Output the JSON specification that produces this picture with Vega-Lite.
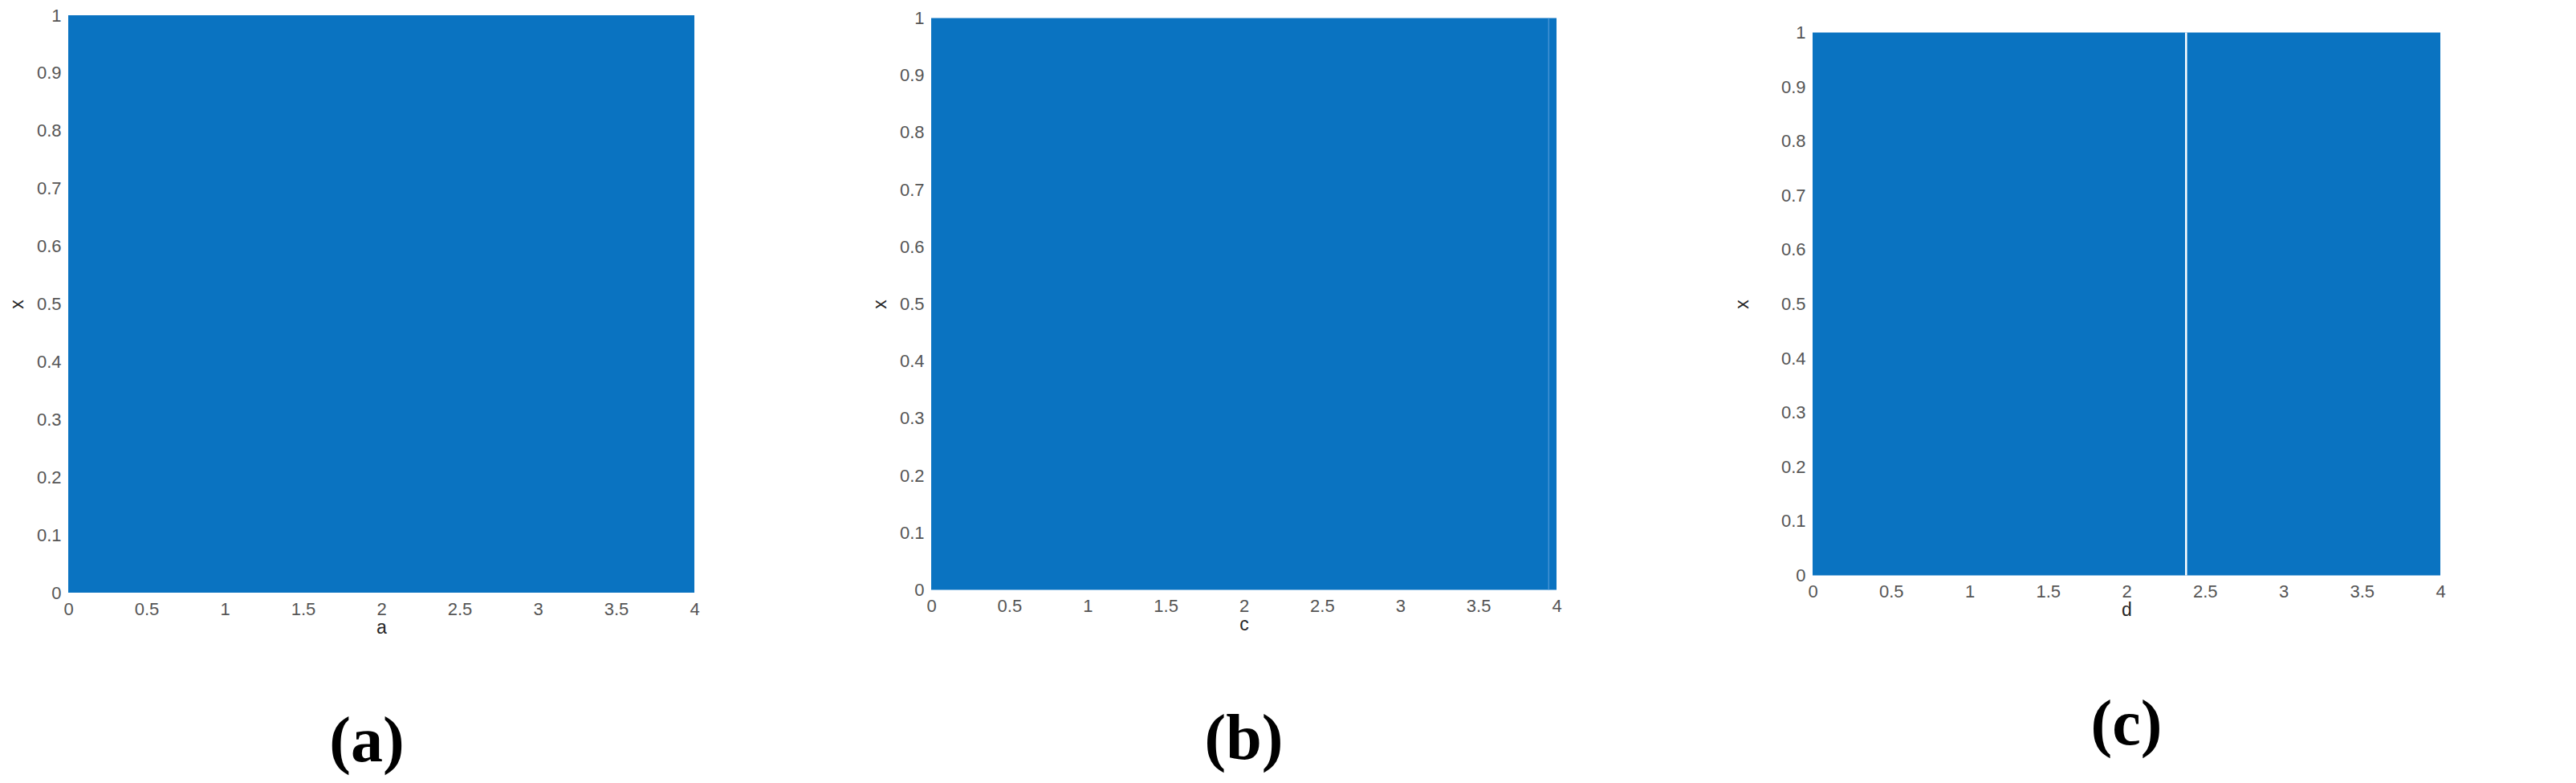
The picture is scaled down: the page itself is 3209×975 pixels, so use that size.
{
  "$schema": "https://vega.github.io/schema/vega-lite/v6.json",
  "background": "white",
  "padding": {"left": 10, "top": 8, "right": 5, "bottom": 5},
  "datasets": {
    "panelA": [{"p0": 0, "p1": 4, "x0": 0, "x1": 1}],
    "panelB": [{"p0": 0, "p1": 4, "x0": 0, "x1": 1}],
    "panelC": [{"p0": 0, "p1": 4, "x0": 0, "x1": 1}],
    "gapB": [{"p": 3.95}],
    "gapC": [{"p": 2.38}]
  },
  "config": {
    "view": {"stroke": null},
    "axis": {
      "labelFont": "Liberation Sans",
      "labelFontSize": 22,
      "labelColor": "#555555",
      "titleFont": "Liberation Sans",
      "titleFontSize": 23,
      "titleFontWeight": "normal",
      "titleColor": "#262626",
      "grid": false,
      "ticks": false,
      "domain": false,
      "labelOverlap": false,
      "labelFlush": false
    },
    "axisX": {"labelPadding": 10, "titlePadding": 1},
    "axisY": {"labelPadding": 9, "titlePadding": 12},
    "title": {"font": "Liberation Serif", "fontSize": 80, "fontWeight": "bold", "color": "#000000"}
  },
  "center": true,
  "spacing": 213,
  "hconcat": [
    {
      "width": 780,
      "height": 719,
      "title": {"text": "(a)", "orient": "bottom", "offset": 92, "dx": -18},
      "layer": [
        {
          "data": {"name": "panelA"},
          "mark": {"type": "rect", "color": "#0A73C1"},
          "encoding": {
            "x": {"field": "p0", "type": "quantitative", "scale": {"domain": [0, 4], "nice": false, "zero": false}, "axis": {"title": "a", "values": [0, 0.5, 1, 1.5, 2, 2.5, 3, 3.5, 4], "format": "~g"}},
            "x2": {"field": "p1"},
            "y": {"field": "x0", "type": "quantitative", "scale": {"domain": [0, 1], "nice": false}, "axis": {"title": "x", "values": [0, 0.1, 0.2, 0.3, 0.4, 0.5, 0.6, 0.7, 0.8, 0.9, 1], "format": "~g"}},
            "y2": {"field": "x1"}
          }
        }
      ]
    },
    {
      "width": 779,
      "height": 712,
      "title": {"text": "(b)", "orient": "bottom", "offset": 92},
      "layer": [
        {
          "data": {"name": "panelB"},
          "mark": {"type": "rect", "color": "#0A73C1"},
          "encoding": {
            "x": {"field": "p0", "type": "quantitative", "scale": {"domain": [0, 4], "nice": false, "zero": false}, "axis": {"title": "c", "values": [0, 0.5, 1, 1.5, 2, 2.5, 3, 3.5, 4], "format": "~g"}},
            "x2": {"field": "p1"},
            "y": {"field": "x0", "type": "quantitative", "scale": {"domain": [0, 1], "nice": false}, "axis": {"title": "x", "values": [0, 0.1, 0.2, 0.3, 0.4, 0.5, 0.6, 0.7, 0.8, 0.9, 1], "format": "~g"}},
            "y2": {"field": "x1"}
          }
        },
        {
          "data": {"name": "gapB"},
          "mark": {"type": "rule", "color": "#5aa0dc", "strokeWidth": 1.5, "opacity": 0.7},
          "encoding": {"x": {"field": "p", "type": "quantitative"}}
        }
      ]
    },
    {
      "width": 782,
      "height": 676,
      "title": {"text": "(c)", "orient": "bottom", "offset": 92},
      "layer": [
        {
          "data": {"name": "panelC"},
          "mark": {"type": "rect", "color": "#0A73C1"},
          "encoding": {
            "x": {"field": "p0", "type": "quantitative", "scale": {"domain": [0, 4], "nice": false, "zero": false}, "axis": {"title": "d", "values": [0, 0.5, 1, 1.5, 2, 2.5, 3, 3.5, 4], "format": "~g"}},
            "x2": {"field": "p1"},
            "y": {"field": "x0", "type": "quantitative", "scale": {"domain": [0, 1], "nice": false}, "axis": {"title": "x", "titlePadding": 36, "values": [0, 0.1, 0.2, 0.3, 0.4, 0.5, 0.6, 0.7, 0.8, 0.9, 1], "format": "~g"}},
            "y2": {"field": "x1"}
          }
        },
        {
          "data": {"name": "gapC"},
          "mark": {"type": "rule", "color": "#ffffff", "strokeWidth": 2.5},
          "encoding": {"x": {"field": "p", "type": "quantitative"}}
        }
      ]
    }
  ]
}
